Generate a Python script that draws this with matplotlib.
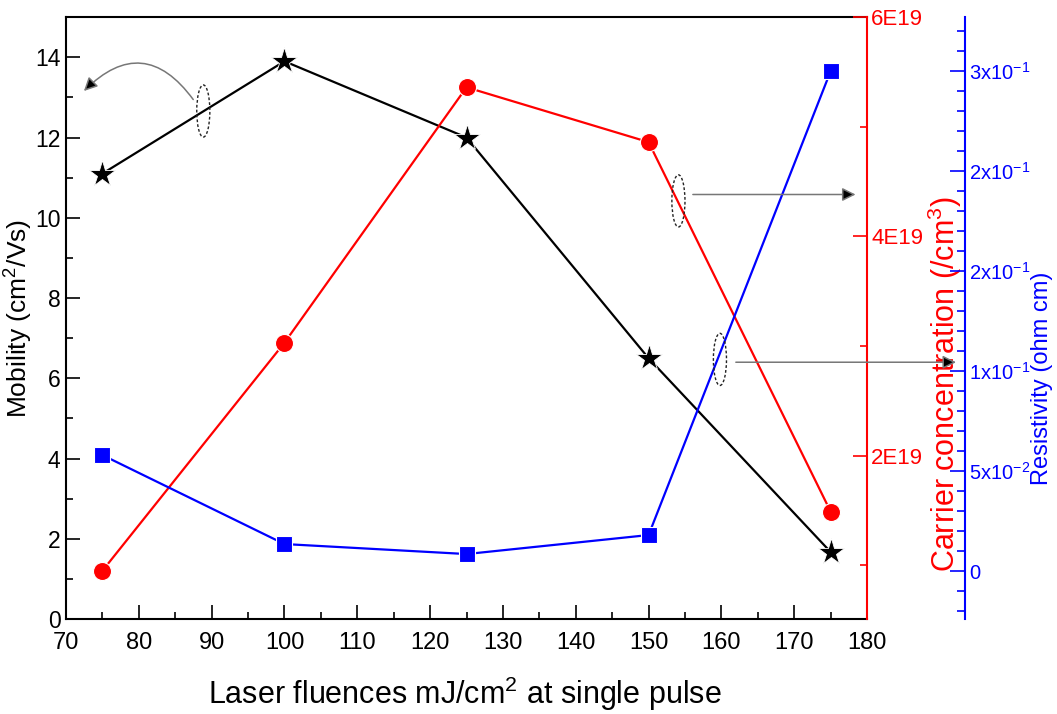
import numpy as np
import matplotlib.pyplot as plt
from matplotlib.patches import Ellipse
from matplotlib.ticker import MultipleLocator

plt.rcParams['font.family'] = ['Liberation Sans', 'DejaVu Sans']
plt.rcParams['mathtext.default'] = 'regular'

# dados
fluence = [75, 100, 125, 150, 175]
mobility = [11.1, 13.9, 12.0, 6.5, 1.67]
carrier = [0.95e19, 3.03e19, 5.36e19, 4.86e19, 1.49e19]
resistivity = [0.058, 0.0135, 0.0085, 0.018, 0.25]

res_ticks = [0, 0.05, 0.10, 0.15, 0.20, 0.25]
res_labels = ['0', '5x10$^{-2}$', '1x10$^{-1}$', '2x10$^{-1}$', '2x10$^{-1}$', '3x10$^{-1}$']
car_ticks = [2e19, 4e19, 6e19]
car_labels = ['2E19', '4E19', '6E19']

fig = plt.figure(figsize=(10.57, 7.14), dpi=100)
ax = fig.add_axes([0.0624, 0.133, 0.7579, 0.843])
ax2 = ax.twinx()
ax3 = ax.twinx()

# eixo da mobilidade
ax.plot(fluence, mobility, '-', color='black', lw=1.6, marker='*', ms=20,
        mec='white', mew=0.6, zorder=3)
ax.set_xlim(70, 180)
ax.set_ylim(0, 15)
ax.xaxis.set_major_locator(MultipleLocator(10))
ax.xaxis.set_minor_locator(MultipleLocator(5))
ax.yaxis.set_major_locator(MultipleLocator(2))
ax.yaxis.set_minor_locator(MultipleLocator(1))
ax.tick_params(which='both', direction='in', right=False, top=False, width=1.2)
ax.tick_params(axis='x', labelsize=17, pad=9)
ax.tick_params(axis='y', labelsize=16.5, pad=4)
ax.tick_params(which='major', length=10)
ax.tick_params(which='minor', length=5)
ax.spines['right'].set_visible(False)
for s in ['left', 'bottom', 'top']:
    ax.spines[s].set_linewidth(1.5)
ax.set_ylabel('Mobility (cm$^2$/Vs)', fontsize=19)
ax.yaxis.set_label_coords(-0.039, 0.5)
ax.set_xlabel('Laser fluences mJ/cm$^2$ at single pulse', fontsize=22)
ax.xaxis.set_label_coords(0.498, -0.092)

# concentração de portadores
ax2.plot(fluence, carrier, '-', color='#ff0000', lw=1.6, marker='o', ms=13,
         mec='white', mew=0.8, zorder=3)
ax2.set_ylim(0.51e19, 6.0e19)
ax2.set_yticks(car_ticks)
ax2.set_yticklabels(car_labels)
ax2.set_yticks([1e19, 3e19, 5e19], minor=True)
ax2.tick_params(axis='y', which='both', direction='in', colors='#ff0000', labelsize=16, width=1.2, pad=3)
ax2.tick_params(axis='y', which='major', length=10)
ax2.tick_params(axis='y', which='minor', length=5)
ax2.spines['right'].set_color('#ff0000')
ax2.spines['right'].set_linewidth(1.5)
for s in ['left', 'top', 'bottom']:
    ax2.spines[s].set_visible(False)
ax2.set_ylabel('Carrier concentration (/cm$^3$)', color='#ff0000', fontsize=22)
ax2.yaxis.set_label_coords(1.073, 0.39)

# resistividade
ax3.spines['right'].set_position(('axes', 1.1223))
ax3.plot(fluence, resistivity, '-', color='#0000ff', lw=1.6, marker='s', ms=11.5,
         mec='white', mew=0.8, zorder=3)
ax3.set_ylim(-0.024, 0.277)
ax3.set_yticks(res_ticks)
ax3.set_yticklabels(res_labels)
ax3.yaxis.set_minor_locator(MultipleLocator(0.01))
ax3.tick_params(axis='y', which='both', direction='in', colors='#0000ff', labelsize=14.5, width=1.2, pad=3)
ax3.tick_params(axis='y', which='major', length=11)
ax3.tick_params(axis='y', which='minor', length=6)
ax3.spines['right'].set_color('#0000ff')
ax3.spines['right'].set_linewidth(1.5)
for s in ['left', 'top', 'bottom']:
    ax3.spines[s].set_visible(False)
ax3.set_ylabel('Resistivity (ohm cm)', color='#0000ff', fontsize=17)
ax3.yaxis.set_label_coords(1.205, 0.40)

# elipses e setas indicando os eixos
for cx, cy in [(88.86, 12.66), (154.1, 10.42), (159.8, 6.47)]:
    ax3.add_patch(Ellipse((cx, cy), 1.8, 1.3, transform=ax.transData, fill=False,
                          ls=(0, (2, 1.5)), lw=1.0, ec='#222222', zorder=5))

arrow = dict(arrowstyle='-|>', ec='#777777', fc='black', lw=1.1, mutation_scale=20)
ax3.annotate('', xy=(72.2, 13.11), xytext=(87.7, 12.89), xycoords=ax.transData,
             textcoords=ax.transData,
             arrowprops=dict(arrow, connectionstyle='arc3,rad=0.6'))
ax3.annotate('', xy=(178.8, 10.58), xytext=(155.7, 10.58), xycoords=ax.transData,
             textcoords=ax.transData, arrowprops=arrow)
ax3.annotate('', xy=(192.6, 6.40), xytext=(161.6, 6.40), xycoords=ax.transData,
             textcoords=ax.transData, arrowprops=arrow, annotation_clip=False)

fig.savefig('out.png', dpi=100)
